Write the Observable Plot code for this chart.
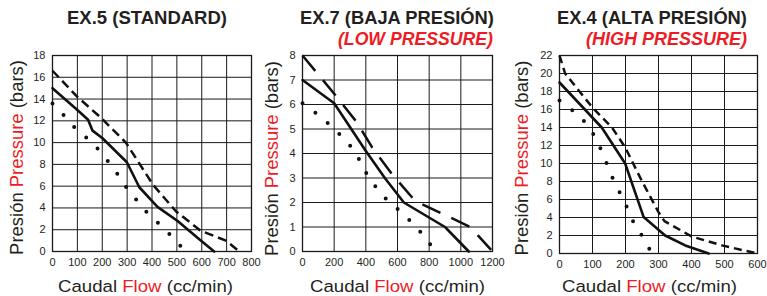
<!DOCTYPE html>
<html>
<head>
<meta charset="utf-8">
<script src="https://cdn.jsdelivr.net/npm/d3@7"></script>
<script src="https://cdn.jsdelivr.net/npm/@observablehq/plot@0.6"></script>
<style>
  html, body { margin: 0; padding: 0; background: #fff; }
  #wrap { position: relative; width: 767px; height: 296px; overflow: hidden; background: #fff; }
  #wrap svg { position: absolute; top: 0; }
</style>
</head>
<body>
<div id="wrap"></div>
<script>
// ---------- data (flow cc/min, pressure bars) ----------
const ex5XTicks = [0, 100, 200, 300, 400, 500, 600, 700, 800];
const ex5YTicks = [0, 2, 4, 6, 8, 10, 12, 14, 16, 18];
const ex5Solid  = [[0,15],[100,13],[143,12.1],[161,11.1],[201,10.4],[299,8.2],[349,5.9],[422,4.1],[503,2.8],[596,1.0],[650,0]];
const ex5Dashed = [[0,16.6],[100,14.2],[194,12.3],[295,10.0],[405,6.1],[496,3.7],[596,1.9],[697,1.0],[751,0]];
const ex5Dotted = [[0,13.6],[54,12.3],[100,11.1],[157,10.1],[205,8.8],[248,7.6],[286,6.2],[328,5.0],[375,3.7],[425,2.6],[479,1.4],[535,0]];

const ex7XTicks = [0, 200, 400, 600, 800, 1000, 1200];
const ex7YTicks = [0, 1, 2, 3, 4, 5, 6, 7, 8];
const ex7Solid  = [[0,7],[200,6.05],[400,4.1],[520,3.0],[640,2.0],[900,1.0],[1050,0]];
const ex7Dashed = [[0,8],[210,6.36],[340,5.3],[440,4.25],[560,3.2],[700,2.15],[750,1.95],[1060,1.0],[1200,0]];
const ex7Dotted = [[0,6.05],[95,5.6],[185,5.1],[263,4.6],[337,4.05],[383,3.4],[442,2.8],[520,2.2],[606,1.7],[688,1.2],[764,0.67],[840,0]];

const ex4XTicks = [0, 100, 200, 300, 400, 500, 600];
const ex4YTicks = [0, 2, 4, 6, 8, 10, 12, 14, 16, 18, 20, 22];
const ex4Solid  = [[0,19],[128,14],[199,10],[255,4.05],[320,2.0],[381,0.9],[452,0]];
const ex4Dashed = [[0,22],[17,20],[98,16.3],[159,14],[199,11.8],[249,8.1],[300,4.6],[318,3.6],[400,1.9],[492,0.9],[600,0]];
const ex4Dotted = [[0,17],[47,15.7],[88,14.2],[113,12.6],[136,10.7],[154,8.9],[177,7.2],[201,5.4],[224,3.5],[252,1.85],[280,0]];

const titles = [
  {text: "EX.5 (STANDARD)", sub: null},
  {text: "EX.7 (BAJA PRESIÓN)", sub: "(LOW PRESSURE)"},
  {text: "EX.4 (ALTA PRESIÓN)", sub: "(HIGH PRESSURE)"}
];
const xLabelParts = ["Caudal ", "Flow", " (cc/min)"];
const yLabelParts = ["Presión ", "Pressure", " (bars)"];

// ---------- styling ----------
const FONT = "'Liberation Sans', Arial, Helvetica, sans-serif";
const INK = "#231f20";
const RED = "#ed1c24";

const wrap = document.getElementById("wrap");

function panel(o) {
  const svg = Plot.plot({
    width: o.width,
    height: 296,
    marginTop: 55,
    marginBottom: o.marginBottom,
    marginLeft: o.marginLeft,
    marginRight: o.marginRight,
    style: {background: "transparent", overflow: "visible", fontFamily: FONT, fontSize: "11px", color: INK},
    x: {domain: o.xDomain, ticks: o.xTicks, tickSize: 0, tickPadding: 7, label: null, tickFormat: d => String(d)},
    y: {domain: o.yDomain, ticks: o.yTicks, tickSize: 0, tickPadding: 7, label: null, tickFormat: d => String(d)},
    marks: [
      Plot.ruleX(o.xTicks, {stroke: "#1a1a1a", strokeWidth: 1}),
      Plot.ruleY(o.yTicks, {stroke: "#1a1a1a", strokeWidth: 1}),
      Plot.frame({stroke: "#1a1a1a", strokeWidth: 1.3}),
      Plot.line(o.dotted, {x: d => d[0], y: d => d[1], stroke: "#111", strokeWidth: 4,
        strokeDasharray: "0,16", strokeLinecap: "round"}),
      Plot.line(o.dashed, {x: d => d[0], y: d => d[1], stroke: "#111", strokeWidth: 2.5,
        strokeDasharray: o.dash, strokeLinecap: "butt"}),
      Plot.line(o.solid, {x: d => d[0], y: d => d[1], stroke: "#111", strokeWidth: 2.6})
    ]
  });
  svg.style.left = o.left + "px";
  wrap.appendChild(svg);
}

panel({left: 0, width: 262, marginLeft: 52, marginRight: 11, marginBottom: 45,
  xDomain: [0, 800], yDomain: [0, 18], xTicks: ex5XTicks, yTicks: ex5YTicks,
  solid: ex5Solid, dashed: ex5Dashed, dotted: ex5Dotted, dash: "9,5"});
panel({left: 262, width: 240, marginLeft: 40, marginRight: 10, marginBottom: 45,
  xDomain: [0, 1200], yDomain: [0, 8], xTicks: ex7XTicks, yTicks: ex7YTicks,
  solid: ex7Solid, dashed: ex7Dashed, dotted: ex7Dotted, dash: "20,12"});
panel({left: 509, width: 258, marginLeft: 50, marginRight: 10, marginBottom: 43,
  xDomain: [0, 600], yDomain: [0, 22], xTicks: ex4XTicks, yTicks: ex4YTicks,
  solid: ex4Solid, dashed: ex4Dashed, dotted: ex4Dotted, dash: "8,5"});

// ---------- text overlay ----------
const overlay = d3.create("svg").attr("width", 767).attr("height", 296)
  .style("left", "0px").style("overflow", "visible");
wrap.appendChild(overlay.node());

function addText({x, y, parts, colors, size, weight = "normal", italic = false, anchor = "start", width, rotate = false}) {
  const t = overlay.append("text")
    .attr("font-family", FONT).attr("font-size", size).attr("font-weight", weight)
    .attr("font-style", italic ? "italic" : "normal").attr("text-anchor", anchor)
    .style("white-space", "pre");
  parts.forEach((s, i) => t.append("tspan").text(s).attr("fill", colors[i]));
  const w = t.node().getComputedTextLength();
  const sx = width / w;
  t.attr("transform", `translate(${x},${y})${rotate ? " rotate(-90)" : ""} scale(${sx},1)`);
}

// titles
addText({x: 67, y: 24, parts: [titles[0].text], colors: [INK], size: 18, weight: "bold", width: 160});
addText({x: 300, y: 24, parts: [titles[1].text], colors: [INK], size: 18, weight: "bold", width: 194});
addText({x: 338, y: 45, parts: [titles[1].sub], colors: [RED], size: 18, weight: "bold", italic: true, width: 155});
addText({x: 557, y: 24, parts: [titles[2].text], colors: [INK], size: 18, weight: "bold", width: 190});
addText({x: 586, y: 45, parts: [titles[2].sub], colors: [RED], size: 18, weight: "bold", italic: true, width: 161});

// x axis labels
[145.5, 397.5, 649.5].forEach(cx => addText({x: cx, y: 291.5, parts: xLabelParts, colors: [INK, RED, INK],
  size: 17, anchor: "middle", width: 175}));
// y axis labels
[[23, 157.5], [277.7, 158.5], [527.5, 158]].forEach(([bx, cy]) => addText({x: bx, y: cy, parts: yLabelParts,
  colors: [INK, RED, INK], size: 18, anchor: "middle", width: 195, rotate: true}));
</script>
</body>
</html>
